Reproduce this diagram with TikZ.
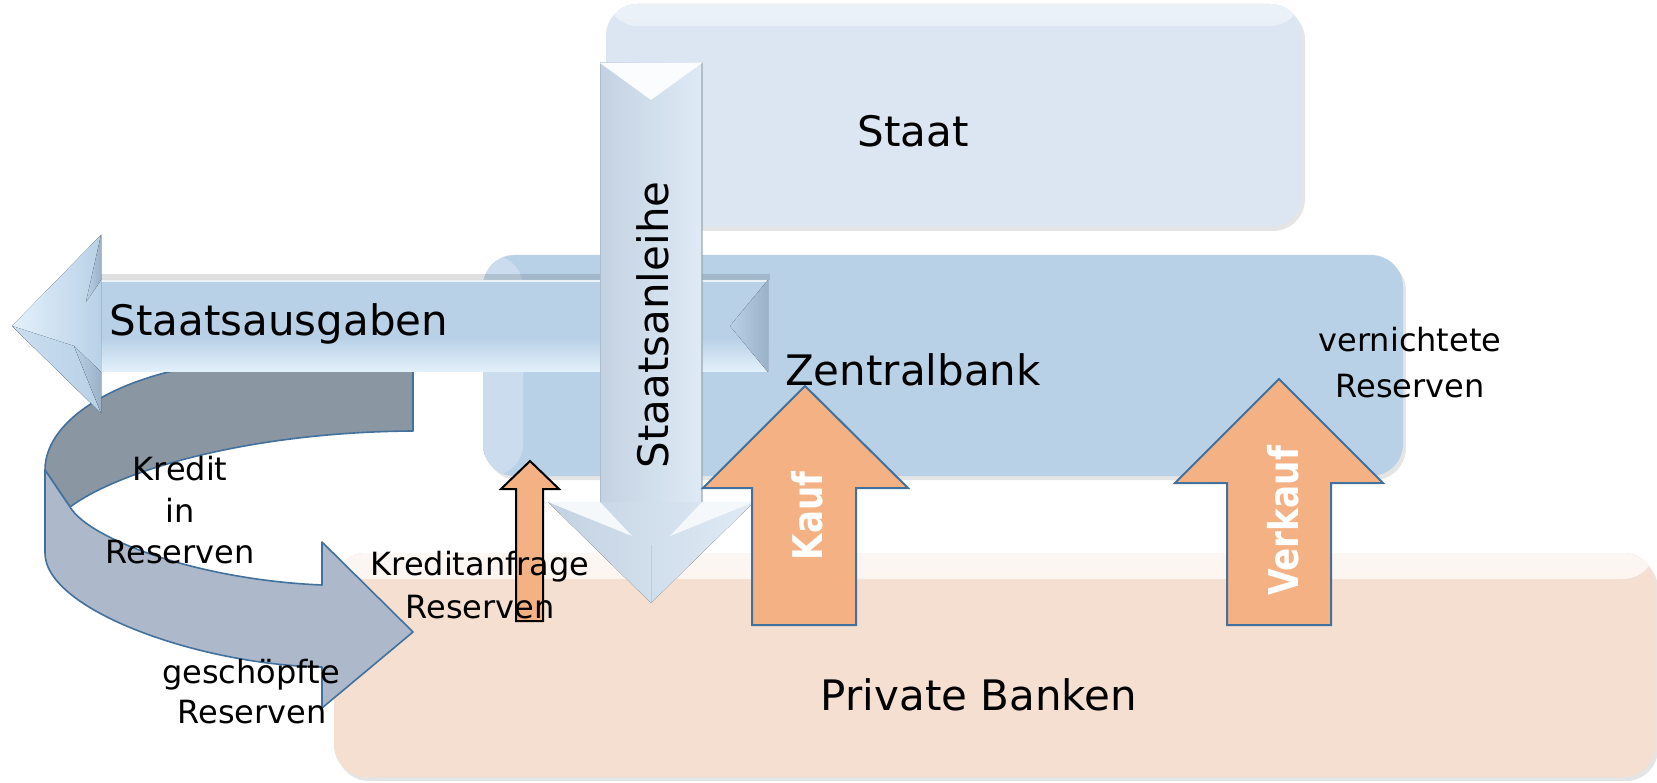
\documentclass[tikz,border=0pt]{standalone}
\usepackage{fontspec}
\setmainfont{DejaVu Sans}
\usepackage{graphicx}
\usetikzlibrary{shadows}

\definecolor{staatfill}{HTML}{DCE6F2}
\definecolor{zbfill}{HTML}{B9D1E7}
\definecolor{pbfill}{HTML}{F5DFD1}
\definecolor{arrowblue}{HTML}{B9D1E7}
\definecolor{arrowdeep}{HTML}{9AB1C8}
\definecolor{arrowpale}{HTML}{E3F1FB}
\definecolor{bondleft}{HTML}{C3D2E2}
\definecolor{bondright}{HTML}{DFEAF5}
\definecolor{orangefill}{HTML}{F4B183}
\definecolor{steel}{HTML}{41719C}
\definecolor{ribbondark}{HTML}{8B96A3}
\definecolor{ribbonlight}{HTML}{ADB9CA}

\tikzset{
  panel/.style={rounded corners=32pt, fill=#1, draw=none, inner sep=0pt,
    drop shadow={opacity=0.2, shadow xshift=3pt, shadow yshift=-4pt}},
  lbl/.style={font=\fontsize{42}{50}\selectfont, anchor=base, inner sep=0pt},
  smalllbl/.style={font=\fontsize{32}{38}\selectfont, anchor=base, inner sep=0pt},
  boldlbl/.style={font=\bfseries\fontsize{41}{48}\selectfont, text=white,
    anchor=base, inner sep=0pt, rotate=90},
  ribbonline/.style={draw=steel, line width=1.6pt, line join=round},
  blockup/.style={fill=orangefill, draw=steel, line width=2pt, line join=miter},
  smallup/.style={fill=orangefill, draw=black, line width=2pt, line join=miter},
}

\begin{document}
\begin{tikzpicture}[x=1pt,y=-1pt]
\fill[white] (0,0) rectangle (1657,783);
\useasboundingbox (0,0) rectangle (1657,783);

% ---------- the three institutions ----------
\node[panel=staatfill, minimum width=696pt, minimum height=223pt,
  path picture={
    \fill[top color=staatfill!55!white, bottom color=staatfill]
      (path picture bounding box.north west) rectangle
      ([yshift=-22pt]path picture bounding box.north east);
  }] (staat) at (954,115.5) {};

\node[panel=zbfill, minimum width=920pt, minimum height=221pt,
  path picture={
    \fill[left color=zbfill!75!white, right color=zbfill]
      (path picture bounding box.north west) rectangle
      ([xshift=40pt]path picture bounding box.south west);
  }] (zb) at (943,365.5) {};

\node[panel=pbfill, minimum width=1321pt, minimum height=224pt,
  path picture={
    \fill[top color=pbfill!25!white, bottom color=pbfill]
      (path picture bounding box.north west) rectangle
      ([yshift=-26pt]path picture bounding box.north east);
  }] (pb) at (994.5,665) {};

% ---------- curved ribbon: credit in reserves ----------
\coordinate (rib-start) at (413,362);
\coordinate (rib-fold) at (70,507);
\coordinate (rib-left) at (45,470);
\coordinate (rib-tip) at (413,632);
\filldraw[fill=ribbondark, ribbonline]
  (rib-start) -- (230,362) .. controls (130,370) and (45,415) .. (rib-left)
  -- (rib-fold) .. controls (120,470) and (250,432) .. (413,431) -- cycle;
\filldraw[fill=ribbonlight, ribbonline]
  (rib-left) -- (45,553) .. controls (45,610) and (200,665) .. (322,667)
  -- (322,708) -- (rib-tip) -- (322,542) -- (322,585)
  .. controls (200,580) and (90,540) .. (rib-fold) -- cycle;

% ---------- Staatsausgaben: bevelled arrow pointing left ----------
\coordinate (sa-tip) at (12,326);
\coordinate (sa-end) at (768,326);
\fill[black, opacity=0.12] (101,274) rectangle (770,280);
\fill[arrowblue] (sa-tip) -- (101,235) -- (101,280) -- (768,280) -- (768,372)
  -- (101,372) -- (101,413) -- cycle;
\fill[top color=arrowblue, bottom color=arrowpale] (101,338) rectangle (768,372);
\draw[white, line width=1.5pt, opacity=0.7] (101,281) -- (768,281);
\fill[left color=arrowblue, right color=arrowdeep] (730,326) -- (768,280) -- (768,372) -- cycle;
\fill[left color=arrowpale, right color=arrowblue] (sa-tip) -- (101,235) -- (101,413) -- cycle;
\fill[left color=arrowblue, right color=arrowdeep] (101,235) -- (101,280) -- (86,302) -- cycle;
\fill[left color=arrowblue!60!arrowpale, right color=arrowblue] (sa-tip) -- (74,346) -- (101,413) -- cycle;
\fill[left color=arrowblue, right color=arrowdeep] (101,413) -- (101,372) -- (74,346) -- cycle;

% ---------- Staatsanleihe: bevelled arrow pointing down ----------
\coordinate (sl-top) at (651,63);
\coordinate (sl-tip) at (651,603);
\fill[left color=bondleft, right color=bondright] (600,63) rectangle (702,502);
\draw[bondleft!80!black, line width=0.8pt, opacity=0.5] (600,63) -- (600,502);
\draw[bondleft!70!black, line width=1.4pt, opacity=0.5] (702,63) -- (702,502);
\fill[white!85!bondright] (600,63) -- (702,63) -- (651,100) -- cycle;
\fill[left color=bondleft, right color=bondright] (548,502) -- (754,502) -- (sl-tip) -- cycle;
\fill[bondright!35!white] (548,502) -- (600,502) -- (632,536) -- cycle;
\fill[bondright!35!white] (702,502) -- (754,502) -- (670,536) -- cycle;
\draw[bondleft!85!black, line width=0.6pt, opacity=0.4] (651,545) -- (sl-tip);

% ---------- credit request, purchase and sale arrows ----------
\coordinate (kr-tip) at (530,461);
\filldraw[smallup] (516,621) -- (516,489) -- (501,489) -- (kr-tip) -- (559,489)
  -- (543,489) -- (543,621) -- cycle;

\coordinate (kauf-tip) at (805,386);
\filldraw[blockup] (752,625) -- (752,488) -- (703,488) -- (kauf-tip) -- (908,488)
  -- (856,488) -- (856,625) -- cycle;

\coordinate (verkauf-tip) at (1279,379);
\filldraw[blockup] (1227,625) -- (1227,483) -- (1175,483) -- (verkauf-tip) -- (1383,483)
  -- (1331,483) -- (1331,625) -- cycle;

% ---------- labels ----------
\node[lbl] (t-staat) at (913,147) {Staat};
\node[lbl] (t-zb) at (913,386) {Zentralbank};
\node[lbl] (t-pb) at (979,710) {Private Banken};
\node[lbl] (t-sa) at (279,336) {Staatsausgaben};
\node[lbl, rotate=90] (t-sl) at (668,325) {Staatsanleihe};

\node[boldlbl] (t-kauf) at (822,516) {\scalebox{0.83}[1]{Kauf}};
\node[boldlbl] (t-verkauf) at (1298,521) {\scalebox{0.835}[1]{Verkauf}};

\node[smalllbl] (t-kredit1) at (180,480) {Kredit};
\node[smalllbl] (t-kredit2) at (180,522) {in};
\node[smalllbl] (t-kredit3) at (180,563) {Reserven};

\node[smalllbl] (t-gesch1) at (251,683) {geschöpfte};
\node[smalllbl] (t-gesch2) at (252,723) {Reserven};

\node[smalllbl] (t-anfr1) at (480,575) {Kreditanfrage};
\node[smalllbl] (t-anfr2) at (480,618) {Reserven};

\node[smalllbl] (t-vern1) at (1410,352) {vernichtete};
\node[smalllbl] (t-vern2) at (1410,397) {Reserven};
\end{tikzpicture}
\end{document}
